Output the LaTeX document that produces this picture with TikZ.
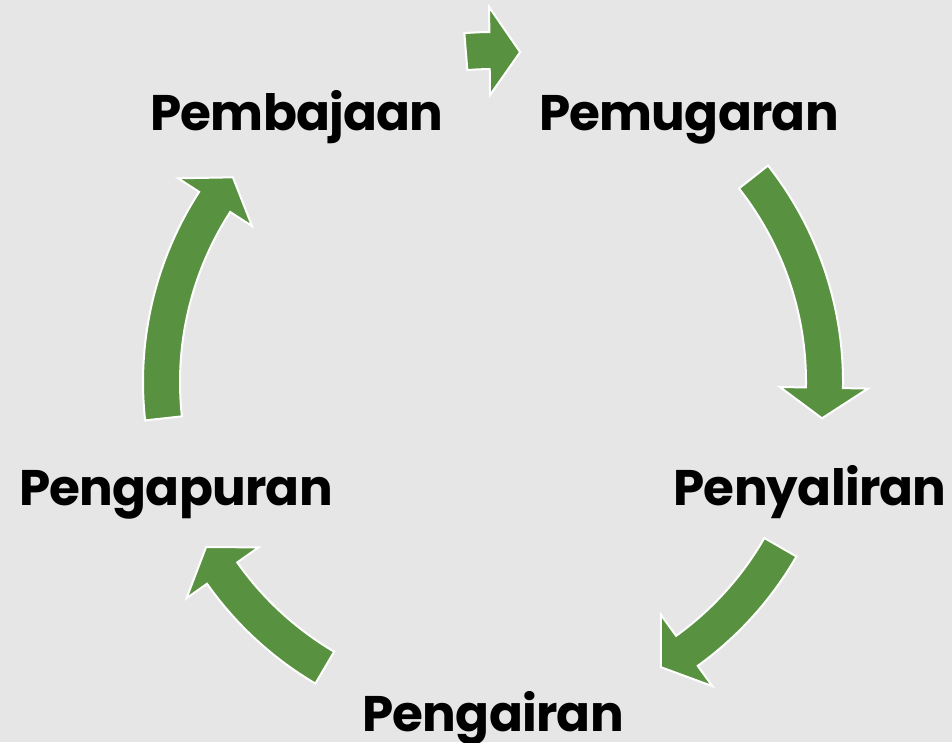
\documentclass[tikz,border=0pt]{standalone}
\usepackage{fontspec}
\setmainfont{Poppins}[LetterSpace=-1.5]
\definecolor{bg}{HTML}{E7E6E6}
\definecolor{arrowgreen}{RGB}{88,145,64}
\begin{document}
\begin{tikzpicture}[x=1pt,y=1pt,
  lbl/.style={anchor=base, inner sep=0pt, font=\fontsize{50}{58}\selectfont\bfseries, text=black},
  cyc/.style={fill=arrowgreen, draw=white, line width=2pt, line join=miter}]
\fill[bg] (0,0) rectangle (952,742);
\useasboundingbox (0,0) rectangle (952,742);
\coordinate (C) at (493,360);
\newcommand{\cycarrow}[3]{%
  % #1 tail angle, #2 base angle, #3 tip angle
  \draw[cyc, shift={(C)}] (#1:350) arc[start angle=#1, end angle=#2, radius=350]
    -- (#2:375) -- (#3:331) -- (#2:287) -- (#2:313)
    arc[start angle=#2, end angle=#1, radius=313] -- cycle;}
\cycarrow{38.2}{-1.0}{-6.3}
\cycarrow{-29.9}{-54.2}{-59.5}
\cycarrow{-120.5}{-144.8}{-150.1}
\cycarrow{186.3}{147.1}{141.8}
\cycarrow{94.7}{90.6}{85.3}
\node[lbl] (pemugaran) at (689,611) {Pemugaran};
\node[lbl] (penyaliran) at (810,237) {Penyaliran};
\node[lbl] (pengairan) at (493,11) {Pengairan};
\node[lbl] (pengapuran) at (176,237) {Pengapuran};
\node[lbl] (pembajaan) at (297,611) {Pembajaan};
\end{tikzpicture}
\end{document}
